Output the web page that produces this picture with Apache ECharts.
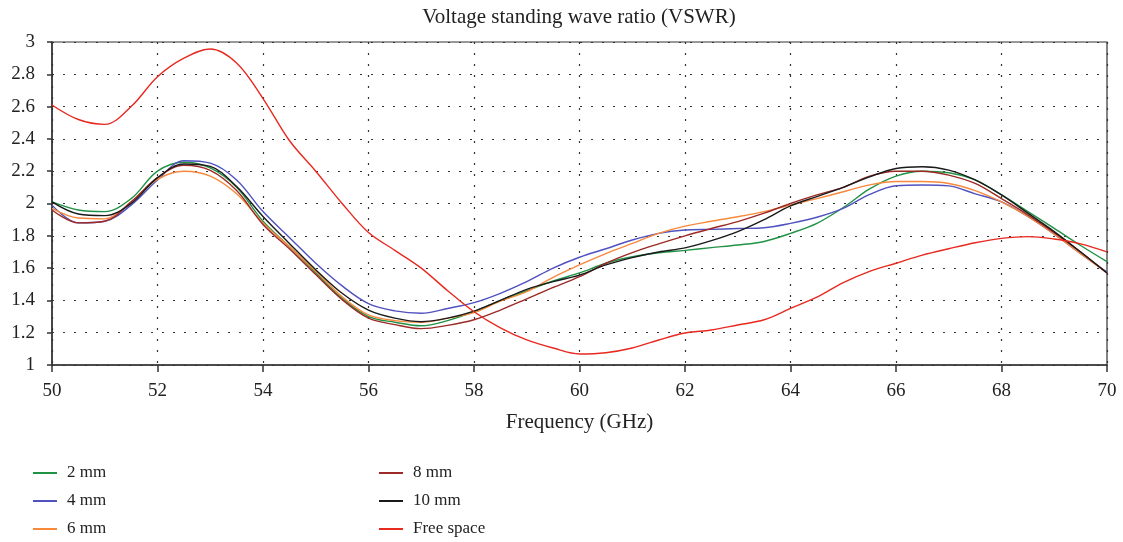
<!DOCTYPE html>
<html>
<head>
<meta charset="utf-8">
<script src="https://cdn.jsdelivr.net/npm/echarts@6/dist/echarts.min.js"></script>
<style>
  html, body { margin: 0; padding: 0; background: #fff; }
  #vswr { width: 1123px; height: 542px; }
</style>
</head>
<body>
<div id="vswr"></div>
<script>
// frequency points (GHz)
var freq = [50, 50.5, 51, 51.5, 52, 52.5, 53, 53.5, 54, 54.5, 55, 55.5, 56, 56.5, 57, 57.5, 58, 58.5, 59, 59.5,
  60, 60.5, 61, 61.5, 62, 62.5, 63, 63.5, 64, 64.5, 65, 65.5, 66, 66.5, 67, 67.5, 68, 68.5, 69, 69.5, 70];

var mm2 = [2.01, 1.96, 1.95, 2.03, 2.20, 2.255, 2.22, 2.10, 1.89, 1.733, 1.57, 1.413, 1.30, 1.265, 1.243, 1.275, 1.33, 1.40, 1.46, 1.52,
  1.57, 1.63, 1.67, 1.695, 1.71, 1.727, 1.743, 1.765, 1.815, 1.877, 1.975, 2.09, 2.17, 2.20, 2.19, 2.146, 2.053, 1.95, 1.846, 1.74, 1.64];
var mm4 = [1.99, 1.88, 1.89, 1.99, 2.146, 2.265, 2.25, 2.146, 1.95, 1.79, 1.63, 1.49, 1.38, 1.335, 1.32, 1.35, 1.386, 1.444, 1.516, 1.60,
  1.667, 1.72, 1.774, 1.815, 1.836, 1.84, 1.845, 1.85, 1.877, 1.915, 1.97, 2.056, 2.11, 2.115, 2.109, 2.06, 2.01, 1.92, 1.81, 1.69, 1.575];
var mm6 = [1.97, 1.91, 1.905, 2.01, 2.15, 2.20, 2.17, 2.06, 1.88, 1.733, 1.58, 1.423, 1.31, 1.275, 1.265, 1.29, 1.324, 1.395, 1.454, 1.543,
  1.62, 1.69, 1.753, 1.815, 1.86, 1.89, 1.918, 1.95, 1.99, 2.03, 2.073, 2.115, 2.136, 2.136, 2.124, 2.08, 2.01, 1.92, 1.81, 1.69, 1.57];
var mm8 = [1.96, 1.88, 1.89, 2.01, 2.16, 2.237, 2.205, 2.08, 1.87, 1.72, 1.56, 1.405, 1.29, 1.25, 1.225, 1.245, 1.28, 1.34, 1.41, 1.48,
  1.547, 1.63, 1.696, 1.75, 1.80, 1.845, 1.888, 1.94, 2.0, 2.053, 2.10, 2.17, 2.20, 2.20, 2.176, 2.124, 2.03, 1.93, 1.82, 1.70, 1.57];
var mm10 = [2.01, 1.935, 1.925, 2.0, 2.16, 2.245, 2.23, 2.105, 1.92, 1.753, 1.59, 1.444, 1.34, 1.29, 1.268, 1.29, 1.334, 1.40, 1.468, 1.516,
  1.557, 1.62, 1.665, 1.70, 1.725, 1.77, 1.826, 1.90, 1.985, 2.043, 2.10, 2.165, 2.217, 2.228, 2.207, 2.146, 2.053, 1.94, 1.826, 1.70, 1.57];
var freeSpace = [2.61, 2.52, 2.49, 2.60, 2.785, 2.90, 2.957, 2.87, 2.65, 2.39, 2.2, 2.0, 1.82, 1.71, 1.60, 1.46, 1.33, 1.23, 1.155, 1.105,
  1.068, 1.076, 1.105, 1.155, 1.198, 1.217, 1.248, 1.28, 1.35, 1.42, 1.51, 1.58, 1.63, 1.68, 1.72, 1.757, 1.784, 1.795, 1.78, 1.75, 1.70];

var seriesNames = ["2 mm", "4 mm", "6 mm", "8 mm", "10 mm", "Free space"];
var seriesColors = ["#1f9245", "#4f52bf", "#f7893c", "#9c2a26", "#1a1a1a", "#e8291f"];
var seriesData = [mm2, mm4, mm6, mm8, mm10, freeSpace];

var serif = "'Liberation Serif', 'DejaVu Serif', serif";

function pairs(ys) {
  return freq.map(function (f, i) { return [f, ys[i]]; });
}

var myEcharts = echarts.init(document.getElementById("vswr"));

var legendText = { fontFamily: serif, fontSize: 17, color: "#222", lineHeight: 18, padding: [0, 0, 0, 5] };

var option = {
  animation: false,
  title: {
    text: "Voltage standing wave ratio (VSWR)",
    left: 579,
    textAlign: "center",
    top: 7,
    padding: 0,
    textStyle: { fontFamily: serif, fontSize: 21, fontWeight: "normal", color: "#222" }
  },
  legend: [
    {
      orient: "vertical",
      left: 33,
      top: 464,
      padding: 0,
      itemWidth: 24,
      itemHeight: 2,
      itemGap: 10,
      icon: "rect",
      textStyle: legendText,
      data: seriesNames.slice(0, 3)
    },
    {
      orient: "vertical",
      left: 379,
      top: 464,
      padding: 0,
      itemWidth: 24,
      itemHeight: 2,
      itemGap: 10,
      icon: "rect",
      textStyle: legendText,
      data: seriesNames.slice(3)
    }
  ],
  grid: {
    left: 52,
    right: 16,
    top: 42,
    bottom: 177,
    show: true,
    borderColor: "#333",
    borderWidth: 1.2
  },
  xAxis: {
    type: "value",
    min: 50,
    max: 70,
    interval: 2,
    name: "Frequency (GHz)",
    nameLocation: "middle",
    nameGap: 47,
    nameTextStyle: { fontFamily: serif, fontSize: 21, color: "#222" },
    axisLine: { show: true, lineStyle: { color: "#333", width: 1.5 } },
    axisTick: { show: true, length: 7, lineStyle: { color: "#333", width: 1.5 } },
    axisLabel: { fontFamily: serif, fontSize: 19, color: "#222", margin: 17 },
    splitLine: { show: true, lineStyle: { color: "#333", type: [2, 9], width: 1.2 } }
  },
  yAxis: {
    type: "value",
    min: 1,
    max: 3,
    interval: 0.2,
    axisLine: { show: true, lineStyle: { color: "#333", width: 1.5 } },
    axisTick: { show: true, length: 5, lineStyle: { color: "#333", width: 1.5 } },
    axisLabel: { fontFamily: serif, fontSize: 19, color: "#222", margin: 17 },
    splitLine: { show: true, lineStyle: { color: "#333", type: [2, 9], width: 1.2 } }
  },
  series: seriesNames.map(function (name, i) {
    return {
      name: name,
      type: "line",
      smooth: 0.35,
      showSymbol: false,
      symbol: "none",
      itemStyle: { color: seriesColors[i] },
      lineStyle: { color: seriesColors[i], width: 1.4 },
      data: pairs(seriesData[i])
    };
  })
};

myEcharts.setOption(option);
</script>
</body>
</html>
